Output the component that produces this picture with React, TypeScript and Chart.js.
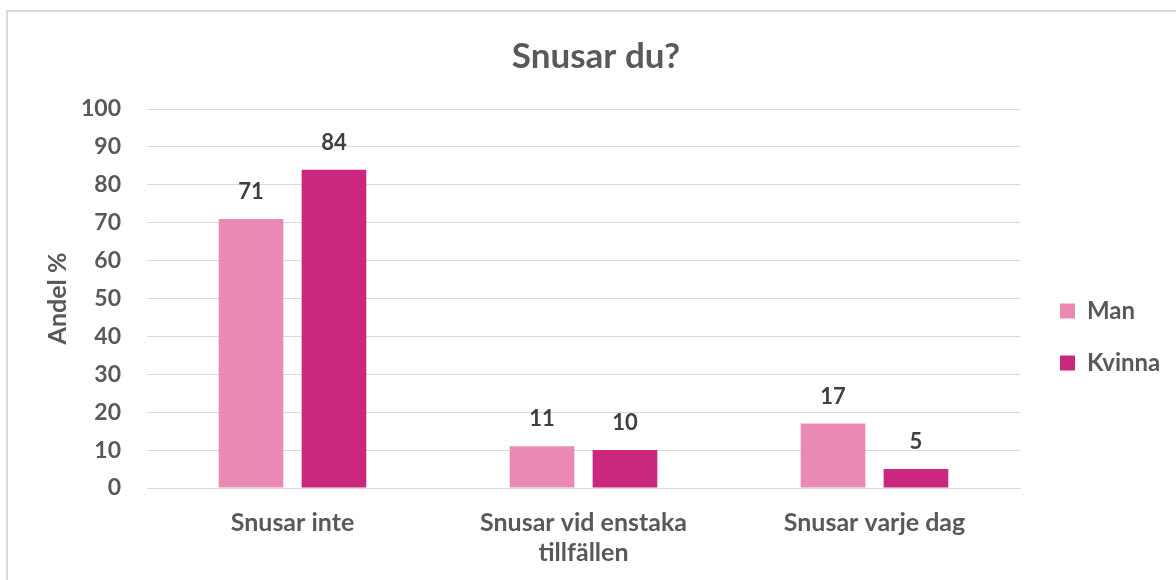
import React, { useEffect, useRef } from "react";
import { Chart, registerables } from "chart.js";

Chart.register(...registerables);

const categories: string[][] = [["Snusar inte"], ["Snusar vid enstaka", "tillfällen"], ["Snusar varje dag"]];
const manValues: number[] = [71, 11, 17];
const kvinnaValues: number[] = [84, 10, 5];
const seriesNames: string[] = ["Man", "Kvinna"];
const yMin = 0;
const yMax = 100;
const yStep = 10;

const FONT = "Lato, 'Open Sans', sans-serif";
const TEXT = "#595959";
const GRID = "#d9d9d9";

const valueLabels = {
  id: "valueLabels",
  afterDatasetsDraw(chart: any) {
    const ctx = chart.ctx;
    ctx.save();
    ctx.font = `bold 22px ${FONT}`;
    ctx.fillStyle = "#404040";
    ctx.textAlign = "center";
    ctx.textBaseline = "middle";
    chart.data.datasets.forEach((ds: any, i: number) => {
      const meta = chart.getDatasetMeta(i);
      meta.data.forEach((bar: any, j: number) => {
        ctx.fillText(String(ds.data[j]), bar.x, bar.y - 27);
      });
    });
    ctx.restore();
  },
};

const legendPlace = {
  id: "legendPlace",
  afterInit(chart: any) {
    const lg = chart.legend;
    if (!lg) return;
    const orig = lg.fit;
    lg.fit = function () {
      orig.call(this);
      this.width = 156;
    };
  },
  afterLayout(chart: any) {
    const lg = chart.legend;
    if (lg) {
      const w = lg.width;
      const h = lg.height;
      lg.left = 1032;
      lg.right = 1032 + w;
      lg.top = 271;
      lg.bottom = 271 + h;
    }
    const tb = chart.titleBlock;
    if (tb) {
      tb.left += 8;
      tb.right += 8;
    }
  },
};

export default function App() {
  const ref = useRef<HTMLCanvasElement | null>(null);

  useEffect(() => {
    document.body.style.margin = "0";
    let chart: Chart | null = null;
    let cancelled = false;
    const make = () => {
      if (cancelled || !ref.current) return;
      chart = new Chart(ref.current, {
        type: "bar",
        data: {
          labels: categories,
          datasets: [
            { label: seriesNames[0], data: manValues, backgroundColor: "#EA8AB4", borderWidth: 0 },
            { label: seriesNames[1], data: kvinnaValues, backgroundColor: "#C9287E", borderWidth: 0 },
          ],
        },
        options: {
          responsive: false,
          animation: false,
          devicePixelRatio: 1,
          layout: { padding: { left: 0, right: 0, top: 0, bottom: 0 } },
          datasets: { bar: { categoryPercentage: 0.57, barPercentage: 0.78 } },
          plugins: {
            title: {
              display: true,
              text: "Snusar du?",
              color: TEXT,
              font: { family: FONT, size: 35, weight: "bold", lineHeight: 1.2 },
              padding: { top: 36, bottom: 31 },
            },
            legend: {
              display: true,
              position: "right",
              align: "start",
              labels: {
                boxWidth: 15,
                boxHeight: 15,
                padding: 28,
                color: TEXT,
                font: { family: FONT, size: 24, weight: "bold" },
              },
            },
            tooltip: { enabled: false },
          },
          scales: {
            x: {
              grid: { display: false, drawTicks: false },
              border: { display: true, color: GRID, width: 1 },
              ticks: {
                color: TEXT,
                padding: 20,
                font: { family: FONT, size: 25, weight: "bold", lineHeight: 1.2 },
                maxRotation: 0,
                autoSkip: false,
              },
              afterFit: (s: any) => {
                s.height = 92;
              },
            },
            y: {
              min: yMin,
              max: yMax,
              grid: { color: GRID, lineWidth: 1, drawTicks: false },
              border: { display: false },
              ticks: {
                stepSize: yStep,
                color: TEXT,
                padding: 26,
                font: { family: FONT, size: 23, weight: "bold" },
              },
              title: {
                display: true,
                text: "Andel %",
                color: TEXT,
                font: { family: FONT, size: 25, weight: "bold", lineHeight: 1.2 },
                padding: { top: 43, bottom: 0 },
              },
              afterFit: (s: any) => {
                s.width = 147;
              },
            },
          },
        },
        plugins: [valueLabels, legendPlace],
      } as any);
    };
    const fonts = (document as any).fonts;
    if (fonts && fonts.load) {
      Promise.all([fonts.load(`bold 22px Lato`), fonts.load(`bold 35px Lato`)]).then(make, make);
    } else {
      make();
    }
    return () => {
      cancelled = true;
      if (chart) chart.destroy();
    };
  }, []);

  return (
    <div style={{ position: "relative", width: 1176, height: 580, overflow: "hidden", background: "#fff" }}>
      <div
        style={{
          position: "absolute",
          left: 6,
          top: 10,
          width: 1200,
          height: 600,
          borderLeft: `2px solid ${GRID}`,
          borderTop: `2px solid ${GRID}`,
          boxSizing: "border-box",
        }}
      />
      <canvas ref={ref} width={1176} height={580} style={{ position: "absolute", left: 0, top: 0, display: "block" }} />
    </div>
  );
}
